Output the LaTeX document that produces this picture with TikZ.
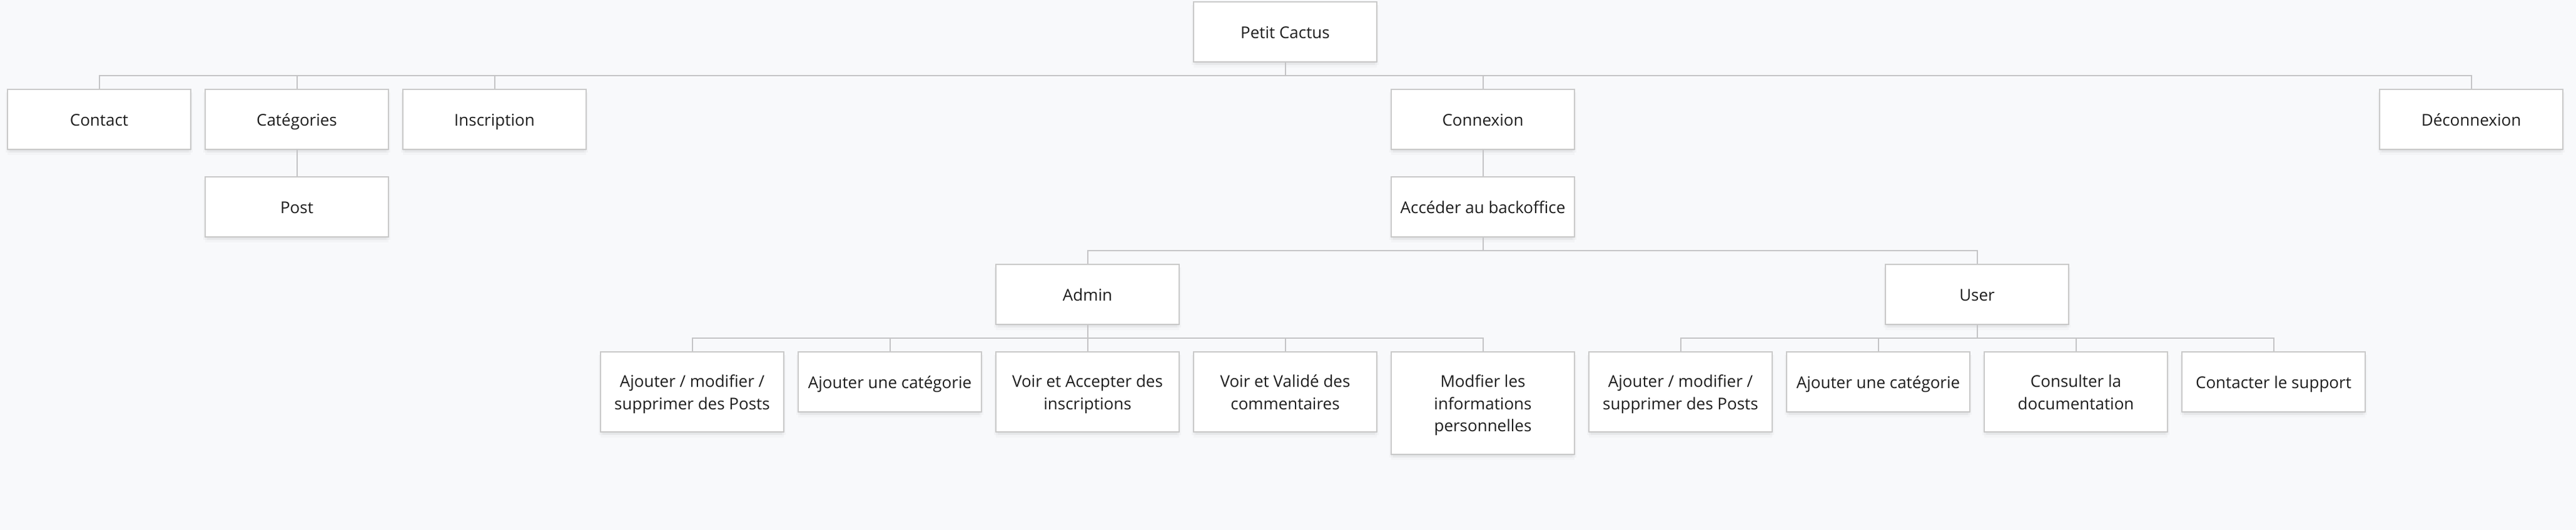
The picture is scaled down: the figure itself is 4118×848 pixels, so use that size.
\documentclass[tikz,border=0pt]{standalone}
\usepackage{fontspec}
\setmainfont{Open Sans}
\usetikzlibrary{calc,shadows}
\definecolor{bgc}{HTML}{F8F9FB}
\definecolor{boxc}{HTML}{C9C9C9}
\definecolor{linec}{HTML}{C4C4C6}
\definecolor{txtc}{HTML}{1E1E1E}
\newcommand\ls{\rule[-7.6pt]{0pt}{35.4pt}}
\begin{document}
\begin{tikzpicture}[x=1pt,y=-1pt,
  box/.style={draw=boxc, line width=2pt, fill=white,
    minimum width=292.5pt, minimum height=96pt,
    inner xsep=0pt, inner ysep=28.8pt, align=center, anchor=north,
    font=\fontsize{26}{35.4}\selectfont, text=txtc,
    general shadow={shadow xshift=0pt, shadow yshift=-2pt, fill=black, opacity=.035},
    general shadow={shadow xshift=-3pt, shadow yshift=-5pt, fill=black, opacity=.025},
    general shadow={shadow xshift=3pt, shadow yshift=-5pt, fill=black, opacity=.025},
    general shadow={shadow xshift=0pt, shadow yshift=-9pt, fill=black, opacity=.02}},
  link/.style={draw=linec, line width=2pt},
  tree/.style={to path={(\tikztostart.south) |- ($(\tikztostart.south)!0.5!(\tikztotarget.north)$) -| (\tikztotarget.north)}}
]
\fill[bgc] (0,0) rectangle (4118,848);
\useasboundingbox (0,0) rectangle (4118,848);

% level 0
\node[box] (pc) at (2054.5,2) {\ls Petit Cactus};
% level 1
\node[box] (contact) at (158.5,142) {\ls Contact};
\node[box] (cat) at (474.5,142) {\ls Catégories};
\node[box] (insc) at (790.5,142) {\ls Inscription};
\node[box] (cnx) at (2370.5,142) {\ls Connexion};
\node[box] (deco) at (3950.5,142) {\ls Déconnexion};
% level 2
\node[box] (post) at (474.5,282) {\ls Post};
\node[box] (back) at (2370.5,282) {\ls Accéder au backoffice};
% level 3
\node[box] (admin) at (1738.5,422) {\ls Admin};
\node[box] (user) at (3160.5,422) {\ls User};
% level 4
\node[box] (a1) at (1106.5,562) {\ls Ajouter / modifier /\\\ls supprimer des Posts};
\node[box] (a2) at (1422.5,562) {\ls Ajouter une catégorie};
\node[box] (a3) at (1738.5,562) {\ls Voir et Accepter des\\\ls inscriptions};
\node[box] (a4) at (2054.5,562) {\ls Voir et Validé des\\\ls commentaires};
\node[box] (a5) at (2370.5,562) {\ls Modfier les\\\ls informations\\\ls personnelles};
\node[box] (u1) at (2686.5,562) {\ls Ajouter / modifier /\\\ls supprimer des Posts};
\node[box] (u2) at (3002.5,562) {\ls Ajouter une catégorie};
\node[box] (u3) at (3318.5,562) {\ls Consulter la\\\ls documentation};
\node[box] (u4) at (3634.5,562) {\ls Contacter le support};

% connectors
\foreach \c in {contact,cat,insc,cnx,deco} \draw[link] (pc) to[tree] (\c);
\draw[link] (cat) to[tree] (post);
\draw[link] (cnx) to[tree] (back);
\draw[link] (back) to[tree] (admin);
\draw[link] (back) to[tree] (user);
\foreach \c in {a1,a2,a3,a4,a5} \draw[link] (admin) to[tree] (\c);
\foreach \c in {u1,u2,u3,u4} \draw[link] (user) to[tree] (\c);
\end{tikzpicture}
\end{document}
